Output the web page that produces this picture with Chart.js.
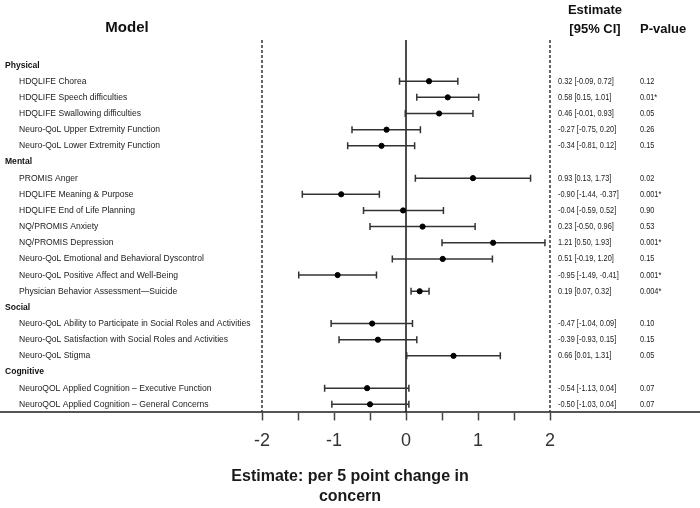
<!DOCTYPE html>
<html>
<head>
<meta charset="utf-8">
<script src="https://cdn.jsdelivr.net/npm/chart.js@4"></script>
<style>
  html, body { margin: 0; padding: 0; background: #fff; }
  #wrap { width: 700px; height: 508px; }
</style>
</head>
<body>
<div id="wrap"><canvas id="forest"></canvas></div>
<script>
// Forest plot: estimate per 5 point change in concern. Group header rows have null values.
const rowLabels = [
  "Physical",
  "HDQLIFE Chorea",
  "HDQLIFE Speech difficulties",
  "HDQLIFE Swallowing difficulties",
  "Neuro-QoL Upper Extremity Function",
  "Neuro-QoL Lower Extremity Function",
  "Mental",
  "PROMIS Anger",
  "HDQLIFE Meaning & Purpose",
  "HDQLIFE End of Life Planning",
  "NQ/PROMIS Anxiety",
  "NQ/PROMIS Depression",
  "Neuro-QoL Emotional and Behavioral Dyscontrol",
  "Neuro-QoL Positive Affect and Well-Being",
  "Physician Behavior Assessment\u2014Suicide",
  "Social",
  "Neuro-QoL Ability to Participate in Social Roles and Activities",
  "Neuro-QoL Satisfaction with Social Roles and Activities",
  "Neuro-QoL Stigma",
  "Cognitive",
  "NeuroQOL Applied Cognition \u2013 Executive Function",
  "NeuroQOL Applied Cognition \u2013 General Concerns",
];
const estimates = [null, 0.32, 0.58, 0.46, -0.27, -0.34, null, 0.93, -0.90, -0.04, 0.23, 1.21, 0.51, -0.95, 0.19, null, -0.47, -0.39, 0.66, null, -0.54, -0.50];
const ciLow     = [null, -0.09, 0.15, -0.01, -0.75, -0.81, null, 0.13, -1.44, -0.59, -0.50, 0.50, -0.19, -1.49, 0.07, null, -1.04, -0.93, 0.01, null, -1.13, -1.03];
const ciHigh    = [null, 0.72, 1.01, 0.93, 0.20, 0.12, null, 1.73, -0.37, 0.52, 0.96, 1.93, 1.20, -0.41, 0.32, null, 0.09, 0.15, 1.31, null, 0.04, 0.04];
const pValues   = [null, "0.12", "0.01*", "0.05", "0.26", "0.15", null, "0.02", "0.001*", "0.90", "0.53", "0.001*", "0.15", "0.001*", "0.004*", null, "0.10", "0.15", "0.05", null, "0.07", "0.07"];
const tickValues = [-2, -1.5, -1, -0.5, 0, 0.5, 1, 1.5, 2];
const refLines = [-2, 0, 2];

// x range chosen so -2..2 sits at 262..550 px on a full-width plot area
const pxPerUnit = 72;
const xMin = -2 - 262 / pxPerUnit;
const xMax = 2 + 150 / pxPerUnit;
const yTop = -1.55;
const yBottom = 21.5;

const datasets = [];
refLines.forEach((v) => {
  datasets.push({
    data: [{ x: v, y: yTop }, { x: v, y: yBottom }],
    showLine: true,
    borderColor: v === 0 ? "#111" : "#333",
    borderWidth: 1.5,
    borderDash: v === 0 ? [] : [3, 2],
    pointRadius: 0,
    order: 3,
  });
});
rowLabels.forEach((lab, i) => {
  if (estimates[i] == null) return;
  datasets.push({
    data: [{ x: ciLow[i], y: i }, { x: ciHigh[i], y: i }],
    showLine: true,
    borderColor: "#333",
    borderWidth: 1.5,
    pointStyle: "line",
    rotation: 90,
    pointRadius: 3.5,
    pointBorderColor: "#333",
    pointBorderWidth: 1.5,
    order: 2,
  });
});
datasets.push({
  data: estimates.map((v, i) => (v == null ? null : { x: v, y: i })).filter(Boolean),
  backgroundColor: "#000",
  borderColor: "#000",
  pointRadius: 2.6,
  order: 1,
});

const font = '"Liberation Sans", Arial, sans-serif';

function squeezeText(ctx, text, x, y, sx) {
  ctx.save();
  ctx.translate(x, y);
  ctx.scale(sx, 1);
  ctx.fillText(text, 0, 0);
  ctx.restore();
}

const forestText = {
  id: "forestText",
  afterDraw(chart) {
    const { ctx } = chart;
    const y = chart.scales.y;
    ctx.save();
    ctx.textBaseline = "middle";
    rowLabels.forEach((lab, i) => {
      const py = y.getPixelForValue(i);
      const group = estimates[i] == null;
      ctx.textAlign = "left";
      ctx.fillStyle = group ? "#111" : "#222";
      ctx.font = (group ? "bold " : "") + "9px " + font;
      squeezeText(ctx, lab, group ? 5 : 19, py, 0.95);
      if (!group) {
        const ci = estimates[i].toFixed(2) + " [" + ciLow[i].toFixed(2) + ", " + ciHigh[i].toFixed(2) + "]";
        ctx.font = "9px " + font;
        squeezeText(ctx, ci, 558, py, 0.82);
        squeezeText(ctx, pValues[i], 640, py, 0.82);
      }
    });
    // column headers
    ctx.fillStyle = "#111";
    ctx.textAlign = "center";
    ctx.font = "bold 15px " + font;
    ctx.fillText("Model", 127, 28);
    ctx.font = "bold 13px " + font;
    ctx.fillText("Estimate", 595, 10);
    ctx.fillText("[95% CI]", 595, 29);
    ctx.textAlign = "left";
    ctx.fillText("P-value", 640, 29);
    ctx.restore();
  },
};

new Chart(document.getElementById("forest"), {
  type: "scatter",
  data: { datasets },
  options: {
    responsive: true,
    maintainAspectRatio: false,
    animation: false,
    layout: { autoPadding: false, padding: { top: 40, left: 0, right: 0, bottom: 1 } },
    plugins: { legend: { display: false }, tooltip: { enabled: false } },
    scales: {
      x: {
        type: "linear",
        min: xMin,
        max: xMax,
        afterBuildTicks: (scale) => {
          scale.ticks = tickValues.map((v) => ({ value: v }));
        },
        grid: { drawOnChartArea: false, drawTicks: true, tickLength: 8, tickColor: "#444", tickWidth: 1.5 },
        border: { color: "#555", width: 2 },
        ticks: {
          autoSkip: false,
          maxRotation: 0,
          padding: 10,
          color: "#333",
          font: { family: font, size: 18 },
          callback: (v) => (Number.isInteger(v) ? String(v) : ""),
        },
        title: {
          display: true,
          text: ["Estimate: per 5 point change in", "concern"],
          color: "#1a1a1a",
          font: { family: font, size: 16, weight: "bold", lineHeight: 1.25 },
          padding: { top: 5, bottom: 0 },
        },
      },
      y: {
        type: "linear",
        reverse: true,
        min: yTop,
        max: yBottom,
        display: false,
      },
    },
  },
  plugins: [forestText],
});
</script>
</body>
</html>
